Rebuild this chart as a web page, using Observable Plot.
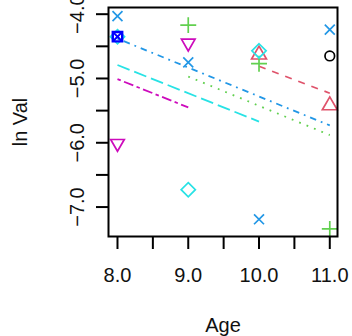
<!DOCTYPE html>
<html><head><meta charset="utf-8">
<script src="https://cdn.jsdelivr.net/npm/d3@7"></script>
<script src="https://cdn.jsdelivr.net/npm/@observablehq/plot@0.6"></script>
<style>
body{margin:0;background:#fff}
#chart svg{display:block}
</style>
</head><body><div id="chart"></div>
<script>
// ---- data ----
const pointGroup = [1, 2, 2, 3, 3, 3, 4, 4, 4, 4, 5, 5, 5, 6, 6];
const pointAge   = [11, 10, 11, 9, 10, 11, 8, 9, 10, 11, 8, 9, 10, 8, 9];
const pointVal   = [-4.65, -4.63, -5.42, -4.17, -4.77, -7.34, -4.03, -4.75, -7.19, -4.24, -4.35, -6.73, -4.57, -6.01, -4.45];

const highlightAge = [8];
const highlightVal = [-4.35];

const lineGroup = [2, 3, 4, 5, 6];
const lineAge0  = [10, 9, 8, 8, 8];
const lineAge1  = [11, 11, 11, 10, 9];
const lineVal0  = [-4.81, -4.97, -4.38, -4.79, -5.01];
const lineVal1  = [-5.23, -5.88, -5.73, -5.67, -5.45];

const xTicks = [8, 8.5, 9, 9.5, 10, 10.5, 11];
const xLabels = [8, 9, 10, 11];
const yTicks = [-4, -4.5, -5, -5.5, -6, -6.5, -7];
const yLabels = [-4, -5, -6, -7];

// ---- styles ----
const colors = {1: "#000000", 2: "#DF536B", 3: "#61D04F", 4: "#2297E6", 5: "#28E2E5", 6: "#CD0BBC"};
const dashes = {2: "7,7", 3: "1.8,6.2", 4: "1.8,5,6.5,5", 5: "13,5", 6: "3.5,3.5,10,3.5"};
const symbols = {1: "circle", 2: "triangle2", 3: "plus", 4: "times", 5: "diamond2", 6: "triangle2"};
const radii = {1: 4.8, 2: 7.1, 3: 5.2, 4: 4.6, 5: 6.4, 6: 6.5};
const font = "'Liberation Sans', Arial, Helvetica, sans-serif";

const points = pointAge.map((a, i) => ({g: pointGroup[i], x: a, y: pointVal[i]}));
const lines = [];
lineGroup.forEach((g, i) => {
  lines.push({g, x: lineAge0[i], y: lineVal0[i]});
  lines.push({g, x: lineAge1[i], y: lineVal1[i]});
});

const marks = [];
for (const g of lineGroup) {
  marks.push(Plot.line(lines.filter(d => d.g === g), {
    x: "x", y: "y", stroke: colors[g], strokeWidth: 1.8,
    strokeDasharray: dashes[g], strokeLinecap: "butt"
  }));
}
for (const g of [1, 2, 3, 4, 5, 6]) {
  marks.push(Plot.dot(points.filter(d => d.g === g), {
    x: "x", y: "y", symbol: () => symbols[g], r: radii[g],
    fill: "none", stroke: colors[g], strokeWidth: 1.7,
    rotate: g === 6 ? 180 : 0
  }));
}
const hl = highlightAge.map((a, i) => ({x: a, y: highlightVal[i]}));
marks.push(Plot.dot(hl, {x: "x", y: "y", symbol: "square2", r: 6.0, fill: "none", stroke: "#0000FF", strokeWidth: 2.4}));
marks.push(Plot.dot(hl, {x: "x", y: "y", symbol: "times", r: 4.2, fill: "none", stroke: "#0000FF", strokeWidth: 2}));

marks.push(Plot.frame({stroke: "black", strokeWidth: 2}));
marks.push(Plot.axisX({ticks: xTicks, tickSize: 13, strokeWidth: 2, tickFormat: () => "", label: null}));
marks.push(Plot.axisY({ticks: yTicks, tickSize: 12, strokeWidth: 2, tickFormat: () => "", label: null}));
marks.push(Plot.text(xLabels, {x: d => d, frameAnchor: "bottom", dy: 39, lineAnchor: "middle", textAnchor: "middle",
  text: d => d.toFixed(1), fontSize: 20, fill: "#111"}));
marks.push(Plot.text(yLabels, {y: d => d, frameAnchor: "left", dx: -31, lineAnchor: "middle", textAnchor: "middle", rotate: -90,
  text: d => "\u2212" + Math.abs(d).toFixed(1), fontSize: 20, fill: "#111"}));
marks.push(Plot.text(["Age"], {frameAnchor: "bottom", dy: 89, lineAnchor: "middle", textAnchor: "middle", text: d => d, fontSize: 20, fill: "#111"}));
marks.push(Plot.text(["ln Val"], {frameAnchor: "left", dx: -88, lineAnchor: "middle", textAnchor: "middle", rotate: -90, text: d => d, fontSize: 20, fill: "#111"}));

const chart = Plot.plot({
  width: 352, height: 336,
  marginLeft: 108, marginRight: 15, marginTop: 7, marginBottom: 100,
  x: {domain: [7.873, 11.109], axis: null},
  y: {domain: [-7.458, -3.896], axis: null},
  style: {fontFamily: font, background: "#fff", overflow: "visible"},
  marks
});
document.getElementById("chart").appendChild(chart);
</script>
</body></html>
